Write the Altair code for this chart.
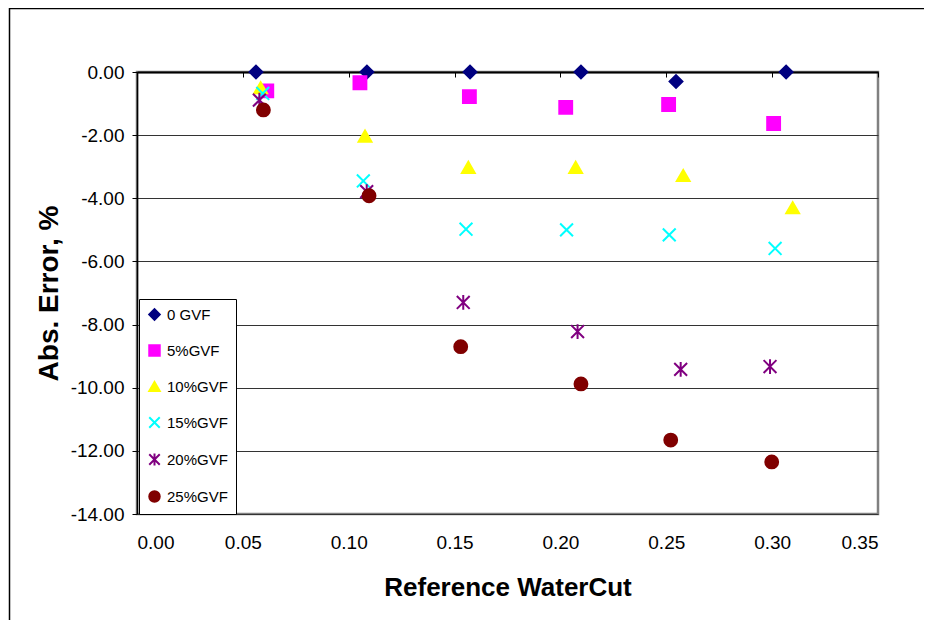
import altair as alt
import pandas as pd

series_names = ["0 GVF", "5%GVF", "10%GVF", "15%GVF", "20%GVF", "25%GVF"]
series_colors = ["#000080", "#FF00FF", "#FFFF00", "#00FFFF", "#800080", "#800000"]
series_shapes = ["diamond", "square", "triangle-up",
                 "M-1,-1L1,1M-1,1L1,-1",
                 "M-1,-1L1,1M-1,1L1,-1M0,-1.15L0,1.15",
                 "circle"]

x0 = [0.0562, 0.1086, 0.1573, 0.2097, 0.2546, 0.3066]
y0 = [0.0, 0.0, 0.0, 0.0, -0.30, 0.0]
x5 = [0.0613, 0.1053, 0.1570, 0.2025, 0.2511, 0.3007]
y5 = [-0.60, -0.34, -0.78, -1.12, -1.03, -1.63]
x10 = [0.0584, 0.1077, 0.1565, 0.2072, 0.2580, 0.3097]
y10 = [-0.50, -2.03, -3.02, -3.02, -3.28, -4.30]
x15 = [0.0594, 0.1069, 0.1554, 0.2029, 0.2514, 0.3014]
y15 = [-0.68, -3.45, -4.98, -5.00, -5.16, -5.59]
x20 = [0.0578, 0.1085, 0.1541, 0.2081, 0.2568, 0.2990]
y20 = [-0.89, -3.79, -7.30, -8.22, -9.42, -9.33]
x25 = [0.0597, 0.1096, 0.1529, 0.2097, 0.2521, 0.2998]
y25 = [-1.20, -3.92, -8.70, -9.88, -11.66, -12.35]

x_ticks = [0.0, 0.05, 0.10, 0.15, 0.20, 0.25, 0.30, 0.35]
y_ticks = [-14, -12, -10, -8, -6, -4, -2, 0]

rows = []
for name, xs, ys in zip(series_names, [x0, x5, x10, x15, x20, x25],
                        [y0, y5, y10, y15, y20, y25]):
    for xv, yv in zip(xs, ys):
        rows.append({"series": name, "wc": xv, "err": yv})
df = pd.DataFrame(rows)

FONT = "Liberation Sans"
W, H = 741, 442

xscale = alt.Scale(domain=[0, 0.35], nice=False, zero=False)
yscale = alt.Scale(domain=[-14, 0], nice=False, zero=False)
leg = alt.Legend(title=None)

points = alt.Chart(df).mark_point(filled=True, size=165, strokeWidth=2, opacity=1).encode(
    x=alt.X("wc:Q", scale=xscale,
            axis=alt.Axis(title="Reference WaterCut", values=x_ticks, format=".2f",
                          domain=False, ticks=False, grid=False,
                          labelFontSize=19, labelFont=FONT, labelColor="black",
                          labelPadding=19, titleFontSize=26, titleFont=FONT,
                          titleFontWeight="bold", titleColor="black", titlePadding=22)),
    y=alt.Y("err:Q", scale=yscale,
            axis=alt.Axis(title="Abs. Error, %", values=y_ticks,
                          labelExpr="datum.value < 0 ? '-' + format(-datum.value, '.2f') : format(datum.value, '.2f')",
                          domain=True, domainColor="black", domainWidth=1.5,
                          ticks=True, tickColor="black", tickSize=5, tickWidth=1,
                          grid=True, gridColor="#333333", gridWidth=1,
                          labelFontSize=19, labelFont=FONT, labelColor="black",
                          labelPadding=8, titleFontSize=28, titleFont=FONT,
                          titleFontWeight="bold", titleColor="black", titlePadding=7)),
    fill=alt.Fill("series:N", scale=alt.Scale(domain=series_names, range=series_colors), legend=leg),
    stroke=alt.Stroke("series:N", scale=alt.Scale(domain=series_names, range=series_colors), legend=leg),
    shape=alt.Shape("series:N", scale=alt.Scale(domain=series_names, range=series_shapes), legend=leg),
)

top_axis = alt.Chart(df).mark_point(opacity=0).encode(
    x=alt.X("wc:Q", scale=xscale,
            axis=alt.Axis(title=None, orient="bottom", offset=-H, values=x_ticks,
                          labels=False, domain=True, domainColor="black", domainWidth=2,
                          ticks=True, tickColor="black", tickSize=5, tickWidth=1, grid=False)),
)

frame = alt.Chart(alt.InlineData(values=[{"a": 1}])).mark_rect(
    fill=None, stroke="black", strokeWidth=1.5
).encode(
    x=alt.value(-127.5), x2=alt.value(W + 200),
    y=alt.value(-63.5), y2=alt.value(H + 200),
)

chart = alt.layer(frame, points, top_axis).resolve_axis(x="independent", y="shared").properties(
    width=W, height=H,
    autosize=alt.AutoSizeParams(type="none"),
    padding={"left": 129, "top": 64, "right": 46, "bottom": 106},
    background="white",
).configure_view(
    stroke="#808080", strokeWidth=2.5
).configure_legend(
    orient="none", legendX=2, legendY=227, padding=8, rowPadding=17,
    strokeColor="black", strokeWidth=1, fillColor="white",
    labelFont=FONT, labelFontSize=15, labelColor="black", labelOffset=5,
    symbolSize=110, symbolStrokeWidth=2, direction="vertical",
)

chart.save("out.html", embed_options={"renderer": "svg", "actions": False})
